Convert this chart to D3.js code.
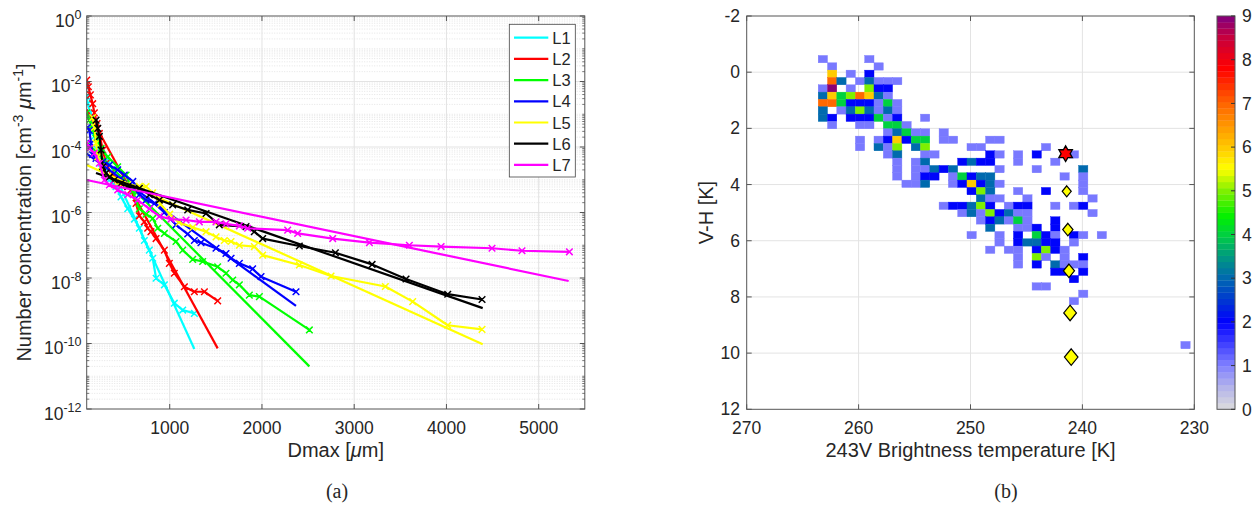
<!DOCTYPE html>
<html><head><meta charset="utf-8">
<script src="https://cdn.jsdelivr.net/npm/d3@7"></script>
<style>
body{margin:0;background:#fff;}
text{font-family:"Liberation Sans",Arial,Helvetica,sans-serif;fill:#262626;}
</style></head><body>
<svg id="c" width="1259" height="515"></svg>
<script>
// ================= DATA =================
const seriesNames = ["L1","L2","L3","L4","L5","L6","L7"];

// measured size distributions (Dmax in µm, concentration in cm^-3 µm^-1)
const dmaxL1 = [100,111,140,165,183,220,256,292,346,418,472,545,617,671,725,779,816,852,942,1050,1141,1267];
const concL1 = [3.5e-3,2.1e-3,1.1e-3,5.2e-4,2.1e-4,8.1e-5,3.2e-5,1.6e-5,9.8e-6,6.2e-6,3.0e-6,1.3e-6,6.3e-7,3.3e-7,1.4e-7,7.1e-8,4.0e-8,9.8e-9,6.2e-9,1.7e-9,1.05e-9,8.3e-10];
const dmaxL2 = [100,118,140,165,183,212,237,274,310,364,436,508,581,635,671,725,761,797,852,942,996,1050,1159,1267,1376,1520];
const concL2 = [1.1e-2,6.9e-3,3.9e-3,2.1e-3,1.1e-3,5.2e-4,2.6e-4,8.1e-5,3.2e-5,1.6e-5,9.8e-6,7.8e-6,4.9e-6,1.9e-6,7.9e-7,5.2e-7,3.3e-7,2.6e-7,1.6e-7,7.1e-8,2.8e-8,1.4e-8,5.4e-9,3.8e-9,3.8e-9,2.0e-9];
const dmaxL3 = [100,129,165,201,256,328,436,527,600,671,745,816,870,942,1068,1141,1249,1357,1520,1610,1683,1755,1863,1972,2514];
const concL3 = [1.1e-3,6.6e-4,3.3e-4,1.8e-4,9.1e-5,5.0e-5,2.5e-5,1.4e-5,4.5e-6,1.3e-6,8.9e-7,6.6e-7,3.3e-7,2.3e-7,1.3e-7,7.1e-8,3.7e-8,3.2e-8,2.2e-8,1.4e-8,8.7e-9,6.2e-9,3.0e-9,2.7e-9,2.6e-10];
const dmaxL4 = [110,129,147,165,201,274,346,436,508,600,671,743,834,942,1068,1195,1267,1339,1502,1610,1665,1755,1899,1990,2369];
const concL4 = [4.0e-4,3.2e-4,1.3e-4,5.8e-5,4.5e-5,3.5e-5,2.8e-5,2.0e-5,1.4e-5,8.9e-6,3.5e-6,2.4e-6,1.9e-6,1.0e-6,4.2e-7,2.2e-7,1.4e-7,1.2e-7,8.1e-8,5.6e-8,4.0e-8,2.8e-8,1.9e-8,1.1e-8,3.8e-9];
const dmaxL5 = [165,185,201,220,256,328,436,545,671,743,816,900,1000,1100,1250,1394,1502,1592,1665,1755,1917,2008,2405,2749,3338,3634,4014,4386];
const concL5 = [7.9e-4,4.0e-4,1.3e-4,5.0e-5,2.5e-5,1.3e-5,7.9e-6,7.1e-6,6.3e-6,6.2e-6,4.0e-6,1.8e-6,8.9e-7,5.0e-7,3.5e-7,2.6e-7,1.8e-7,1.4e-7,1.3e-7,1.0e-7,9.1e-8,5.0e-8,2.5e-8,1.15e-8,5.5e-9,1.9e-9,3.6e-10,2.7e-10];
const dmaxL6 = [201,220,237,256,274,310,346,400,472,545,671,780,888,1032,1195,1394,1538,1827,1917,2008,2405,2796,3194,3562,4014,4386];
const concL6 = [6.6e-4,3.7e-4,2.1e-4,8.1e-5,2.5e-5,1.6e-5,1.2e-5,9.8e-6,7.8e-6,6.2e-6,5.5e-6,3.5e-6,2.4e-6,1.7e-6,1.2e-6,9.3e-7,4.2e-7,3.7e-7,2.6e-7,1.6e-7,9.5e-8,5.9e-8,2.6e-8,9.3e-9,3.2e-9,2.2e-9];
const dmaxL7 = [100,129,183,237,292,346,436,545,653,780,888,1014,1177,1321,1502,1610,1755,1845,2279,2387,2767,3165,3598,3942,4494,4819,5333];
const concL7 = [1.3e-4,9.1e-5,6.5e-5,3.2e-5,9.8e-6,6.9e-6,4.9e-6,3.5e-6,2.4e-6,1.3e-6,7.6e-7,6.3e-7,5.9e-7,5.2e-7,5.2e-7,4.5e-7,3.9e-7,3.3e-7,2.9e-7,2.3e-7,1.6e-7,1.2e-7,1.0e-7,9.1e-8,8.1e-8,6.8e-8,6.3e-8];

// exponential fits (end points)
const fitDmax = [[100,1267],[100,1520],[100,2514],[100,2369],[100,4393],[201,4393],[100,5325]];
const fitConc = [[1.1e-3,6.8e-11],[1.4e-3,7.1e-11],[1.4e-4,2.0e-11],[6.3e-5,1.4e-9],[2.8e-5,9.5e-11],[1.6e-5,1.2e-9],[9.8e-6,8.1e-9]];

const xTicksL = [1000,2000,3000,4000,5000];
const yTickExpL = [0,-2,-4,-6,-8,-10,-12];

// 2-D histogram (b): bin definition and counts, rows = V-H bins, [Tb bin index, count]
const tbBinStart = 263.61, tbBinWidth = 0.831;   // Tb decreasing with bin index
const vhBinStart = -0.595, vhBinHeight = 0.261;
const heatRows = [
 [[0,1],[5,1]],
 [[1,1],[6,1]],
 [[1,6],[3,1],[5,2]],
 [[1,7],[2,3],[4,1],[5,3],[6,1],[7,1],[8,1]],
 [[0,1],[1,9],[3,1],[5,5],[6,2],[7,2]],
 [[0,3],[1,6],[2,4],[3,5],[4,7],[5,6],[6,3],[7,1]],
 [[0,7],[1,7],[2,4],[3,2],[4,2],[5,2],[6,1],[7,4],[8,1]],
 [[0,3],[2,1],[3,3],[4,5],[5,3],[6,1],[7,3],[8,1]],
 [[0,3],[1,2],[3,2],[4,2],[5,2],[6,4],[7,1],[8,2],[11,1]],
 [[1,1],[4,1],[5,1],[7,4],[8,4],[9,1]],
 [[7,1],[8,3],[9,4],[10,1],[11,1],[13,1]],
 [[4,1],[6,1],[7,2],[8,6],[9,2],[10,4],[11,4],[13,1],[14,1],[18,1],[19,1]],
 [[4,1],[6,3],[7,1],[8,5],[10,3],[11,5],[16,1],[17,1],[24,1]],
 [[7,1],[8,3],[11,1],[12,1],[18,2],[19,1],[21,1],[23,2],[27,1]],
 [[8,1],[10,1],[11,3],[15,2],[16,3],[17,2],[18,2],[21,1],[25,1]],
 [[8,1],[10,1],[11,1],[12,3],[13,2],[14,3],[19,1],[23,1],[28,3]],
 [[8,1],[10,1],[11,2],[12,2],[14,1],[15,4],[16,2],[17,3],[18,3],[26,1],[28,1]],
 [[9,1],[10,1],[11,3],[14,1],[15,2],[16,6],[17,2],[18,3],[19,1],[28,1]],
 [[16,2],[17,5],[18,3],[21,1],[24,2],[28,1]],
 [[17,3],[18,1],[19,1],[22,1],[29,1]],
 [[13,1],[14,2],[15,2],[16,3],[17,5],[18,2],[20,1],[21,2],[22,2],[25,1],[27,1],[28,2]],
 [[15,1],[16,3],[17,1],[18,5],[19,2],[20,3],[21,1],[22,1],[29,1]],
 [[17,1],[18,2],[19,3],[20,1],[21,4],[22,1],[25,2]],
 [[18,3],[21,1],[22,1],[23,2],[25,2]],
 [[16,1],[19,1],[21,2],[23,4],[24,2],[25,1],[27,2],[28,1],[30,1]],
 [[19,1],[21,2],[22,3],[23,3],[24,2],[25,2],[27,1]],
 [[18,1],[20,1],[21,1],[23,2],[24,5],[25,2],[26,1]],
 [[21,1],[23,5],[24,1],[26,1],[28,2]],
 [[21,1],[23,2],[25,3],[26,1],[27,1],[28,1]],
 [[25,2],[26,2],[28,2]],
 [[27,2]],
 [[23,1],[24,1]],
 [[28,1]],
 [[27,1]],
 [],[],[],[],[],
 [[39,1]]
];
const starTb = [241.5], starVH = [2.9];
const diamondTb = [241.4,241.3,241.2,241.1,241.0];
const diamondVH = [4.24,5.6,7.07,8.57,10.14];
const xTicksR = [270,260,250,240,230];
const yTicksR = [-2,0,2,4,6,8,10,12];
const cbarTicks = [0,1,2,3,4,5,6,7,8,9];

// ================= STYLE =================
const seriesColors = ["#00ffff","#ff0000","#00ff00","#0000ff","#ffff00","#000000","#ff00ff"];
const axisCol = "#555", gridCol = "#e3e3e3", minorCol = "#dedede";
const tickFont = 17.5, labelFont = 20;
const diamondHeights = [11,12.5,13.5,15.5,16.5];

const svg = d3.select("#c");
svg.append("rect").attr("width",1259).attr("height",515).attr("fill","#fff");

// ================= LEFT PANEL =================
const L = {x0:86.7, x1:584.8, y0:16, y1:409};
const xL = d3.scaleLinear().domain([100,5500]).range([L.x0,L.x1]);
const yL = d3.scaleLog().domain([1e-12,1]).range([L.y1,L.y0]);
const gL = svg.append("g");
svg.append("clipPath").attr("id","clipL").append("rect")
  .attr("x",L.x0).attr("y",L.y0).attr("width",L.x1-L.x0).attr("height",L.y1-L.y0);

const minorVals = [];
for (let e=-12; e<0; e++) for (let m=2; m<=10; m++) {
  if (m===10 && (e+1)%2===0) continue;
  minorVals.push(m*Math.pow(10,e));
}
gL.selectAll(".mg").data(minorVals).join("line")
  .attr("x1",L.x0).attr("x2",L.x1).attr("y1",d=>yL(d)).attr("y2",d=>yL(d))
  .attr("stroke",minorCol).attr("stroke-width",0.8).attr("stroke-dasharray","1 1.5");
gL.selectAll(".gy").data(yTickExpL.slice(1,-1)).join("line")
  .attr("x1",L.x0).attr("x2",L.x1).attr("y1",d=>yL(Math.pow(10,d))).attr("y2",d=>yL(Math.pow(10,d)))
  .attr("stroke",gridCol).attr("stroke-width",1);
gL.selectAll(".gx").data(xTicksL).join("line")
  .attr("x1",d=>xL(d)).attr("x2",d=>xL(d)).attr("y1",L.y0).attr("y2",L.y1)
  .attr("stroke",gridCol).attr("stroke-width",1);

const measured = [[dmaxL1,concL1],[dmaxL2,concL2],[dmaxL3,concL3],[dmaxL4,concL4],[dmaxL5,concL5],[dmaxL6,concL6],[dmaxL7,concL7]];
const lineGen = d3.line().x(d=>xL(d[0])).y(d=>yL(d[1]));
const plotG = gL.append("g").attr("clip-path","url(#clipL)");
measured.forEach((s,k)=>{
  const pts = s[0].map((d,i)=>[d,s[1][i]]);
  const fpts = fitDmax[k].map((d,i)=>[d,fitConc[k][i]]);
  plotG.append("path").attr("d",lineGen(pts)).attr("fill","none")
    .attr("stroke",seriesColors[k]).attr("stroke-width",2.2).attr("stroke-linejoin","round");
  plotG.append("path").attr("d",pts.map(p=>{
      const x=xL(p[0]), y=yL(p[1]), r=3.3;
      return `M${x-r},${y-r}L${x+r},${y+r}M${x-r},${y+r}L${x+r},${y-r}`;}).join(""))
    .attr("stroke",seriesColors[k]).attr("stroke-width",1.5).attr("fill","none");
  plotG.append("path").attr("d",lineGen(fpts)).attr("fill","none")
    .attr("stroke",seriesColors[k]).attr("stroke-width",2.2);
});

// axes box & ticks
gL.append("rect").attr("x",L.x0).attr("y",L.y0).attr("width",L.x1-L.x0).attr("height",L.y1-L.y0)
  .attr("fill","none").attr("stroke",axisCol).attr("stroke-width",1);
gL.selectAll(".mt").data(minorVals).join("path")
  .attr("d",d=>`M${L.x0},${yL(d)}h2.5M${L.x1},${yL(d)}h-2.5`).attr("stroke",axisCol).attr("stroke-width",0.8);
gL.selectAll(".yt").data(yTickExpL).join("path")
  .attr("d",d=>`M${L.x0},${yL(Math.pow(10,d))}h5M${L.x1},${yL(Math.pow(10,d))}h-5`).attr("stroke",axisCol);
gL.selectAll(".xt").data(xTicksL).join("path")
  .attr("d",d=>`M${xL(d)},${L.y1}v-5M${xL(d)},${L.y0}v5`).attr("stroke",axisCol);
gL.selectAll(".xl").data(xTicksL).join("text")
  .attr("x",d=>xL(d)).attr("y",434).attr("text-anchor","middle").attr("font-size",tickFont).text(d=>d);
yTickExpL.forEach(e=>{
  const t = gL.append("text").attr("x",81.5).attr("y",yL(Math.pow(10,e))+10.5)
    .attr("text-anchor","end").attr("font-size",tickFont);
  t.append("tspan").text("10");
  t.append("tspan").attr("dy",-8).attr("font-size",12.5).text(String(e));
});
{
  const t = gL.append("text").attr("font-size",labelFont).attr("text-anchor","middle")
    .attr("transform","translate(31,212.5) rotate(-90)");
  t.append("tspan").text("Number concentration [cm");
  t.append("tspan").attr("dy",-8).attr("font-size",14).text("-3");
  t.append("tspan").attr("dy",8).text(" ");
  t.append("tspan").attr("font-style","italic").text("\u03bc");
  t.append("tspan").text("m");
  t.append("tspan").attr("dy",-8).attr("font-size",14).text("-1");
  t.append("tspan").attr("dy",8).text("]");
  const x = gL.append("text").attr("x",(L.x0+L.x1)/2).attr("y",457).attr("text-anchor","middle").attr("font-size",labelFont);
  x.append("tspan").text("Dmax [");
  x.append("tspan").attr("font-style","italic").text("\u03bc");
  x.append("tspan").text("m]");
}
// legend
{
  const lg = gL.append("g");
  lg.append("rect").attr("x",509.3).attr("y",24.3).attr("width",66).attr("height",152.7)
    .attr("fill","#fff").attr("stroke","#444").attr("stroke-width",0.8);
  seriesNames.forEach((n,k)=>{
    const y = 37.7 + k*21.2;
    lg.append("line").attr("x1",514).attr("x2",548.3).attr("y1",y).attr("y2",y)
      .attr("stroke",seriesColors[k]).attr("stroke-width",2.2);
    lg.append("text").attr("x",552.3).attr("y",y+6).attr("font-size",16.5).text(n);
  });
}
svg.append("text").attr("x",337).attr("y",498).attr("text-anchor","middle")
  .attr("font-size",20).style("font-family","'Liberation Serif','Times New Roman',serif").attr("fill","#000").text("(a)");

// ================= RIGHT PANEL =================
const R = {x0:746.7, x1:1194.3, y0:16, y1:409.3};
const xR = d3.scaleLinear().domain([270,230]).range([R.x0,R.x1]);
const yR = d3.scaleLinear().domain([-2,12]).range([R.y0,R.y1]);
const gR = svg.append("g");

const cmapStops = [0,0.5,1,1.5,2,2.5,3,3.5,4,4.4,5,5.5,6,6.5,7,7.8,8.5,9];
const cmapColors = ["#dcdcdc","#b4b4ea","#8080ff","#4040ff","#0000ff","#0038d0","#0068b0","#009a80","#00d040","#00f000","#80f000","#ffff00","#ffc800","#ff9600","#ff6400","#ff0000","#c8003c","#800080"];
const cmapLin = d3.scaleLinear().domain(cmapStops).range(cmapColors).interpolate(d3.interpolateRgb);
const nLev = 64, cmax = 9;
const cmap = v => { const k = Math.max(0,Math.min(nLev-1,Math.floor(v/cmax*nLev))); return cmapLin((k+0.5)*cmax/nLev); };

gR.selectAll(".gx").data(xTicksR.slice(1,-1)).join("line")
  .attr("x1",d=>xR(d)).attr("x2",d=>xR(d)).attr("y1",R.y0).attr("y2",R.y1).attr("stroke",gridCol);
gR.selectAll(".gy").data(yTicksR.slice(1,-1)).join("line")
  .attr("x1",R.x0).attr("x2",R.x1).attr("y1",d=>yR(d)).attr("y2",d=>yR(d)).attr("stroke",gridCol);

const cells = [];
heatRows.forEach((row,j)=>row.forEach(([i,c])=>cells.push({
  tHi: tbBinStart - i*tbBinWidth, tLo: tbBinStart - (i+1)*tbBinWidth,
  vLo: vhBinStart + j*vhBinHeight, vHi: vhBinStart + (j+1)*vhBinHeight, c})));
gR.selectAll(".cell").data(cells).join("rect")
  .attr("x",d=>xR(d.tHi)).attr("width",d=>xR(d.tLo)-xR(d.tHi))
  .attr("y",d=>yR(d.vLo)).attr("height",d=>yR(d.vHi)-yR(d.vLo))
  .attr("fill",d=>cmap(d.c)).attr("stroke",d=>cmap(d.c)).attr("stroke-width",0.4);

// star (hexagram)
starTb.forEach((t,k)=>{
  const cx=xR(t), cy=yR(starVH[k]), Ro=7.8, Ri=Ro/Math.sqrt(3);
  const pts=d3.range(12).map(q=>{const a=(-90+q*30)*Math.PI/180, r=q%2?Ri:Ro; return [cx+r*Math.cos(a), cy+r*Math.sin(a)];});
  gR.append("path").attr("d","M"+pts.join("L")+"Z").attr("fill","#ff0000").attr("stroke","#000").attr("stroke-width",1.3);
});
diamondTb.forEach((t,k)=>{
  const cx=xR(t), cy=yR(diamondVH[k]), h=diamondHeights[k]/2, w=h*0.82;
  gR.append("path").attr("d",`M${cx},${cy-h}L${cx+w},${cy}L${cx},${cy+h}L${cx-w},${cy}Z`)
    .attr("fill","#ffff00").attr("stroke","#000").attr("stroke-width",1.2);
});

gR.append("rect").attr("x",R.x0).attr("y",R.y0).attr("width",R.x1-R.x0).attr("height",R.y1-R.y0)
  .attr("fill","none").attr("stroke",axisCol);
gR.selectAll(".xt").data(xTicksR).join("path")
  .attr("d",d=>`M${xR(d)},${R.y1}v-5M${xR(d)},${R.y0}v5`).attr("stroke",axisCol);
gR.selectAll(".yt").data(yTicksR).join("path")
  .attr("d",d=>`M${R.x0},${yR(d)}h5M${R.x1},${yR(d)}h-5`).attr("stroke",axisCol);
gR.selectAll(".xl").data(xTicksR).join("text")
  .attr("x",d=>xR(d)).attr("y",434).attr("text-anchor","middle").attr("font-size",tickFont).text(d=>d);
gR.selectAll(".yl").data(yTicksR).join("text")
  .attr("x",740).attr("y",d=>yR(d)+6).attr("text-anchor","end").attr("font-size",tickFont).text(d=>String(d));
gR.append("text").attr("x",(R.x0+R.x1)/2).attr("y",457).attr("text-anchor","middle")
  .attr("font-size",labelFont).text("243V Brightness temperature [K]");
gR.append("text").attr("transform","translate(713,212.5) rotate(-90)").attr("text-anchor","middle")
  .attr("font-size",labelFont).text("V-H [K]");

// colorbar
const C = {x0:1217, x1:1235};
const yC = d3.scaleLinear().domain([0,cmax]).range([R.y1,R.y0]);
gR.selectAll(".cb").data(d3.range(nLev)).join("rect")
  .attr("x",C.x0).attr("width",C.x1-C.x0)
  .attr("y",k=>yC((k+1)*cmax/nLev)).attr("height",k=>yC(k*cmax/nLev)-yC((k+1)*cmax/nLev)+0.3)
  .attr("fill",k=>cmapLin((k+0.5)*cmax/nLev));
gR.append("rect").attr("x",C.x0).attr("y",R.y0).attr("width",C.x1-C.x0).attr("height",R.y1-R.y0)
  .attr("fill","none").attr("stroke",axisCol);
gR.selectAll(".ct").data(cbarTicks).join("path")
  .attr("d",d=>`M${C.x1},${yC(d)}h-4`).attr("stroke","#333");
gR.selectAll(".cl").data(cbarTicks).join("text")
  .attr("x",1242).attr("y",d=>yC(d)+6.2).attr("font-size",tickFont).text(d=>d);

svg.append("text").attr("x",1006).attr("y",498).attr("text-anchor","middle")
  .attr("font-size",20).style("font-family","'Liberation Serif','Times New Roman',serif").attr("fill","#000").text("(b)");
</script></body></html>
